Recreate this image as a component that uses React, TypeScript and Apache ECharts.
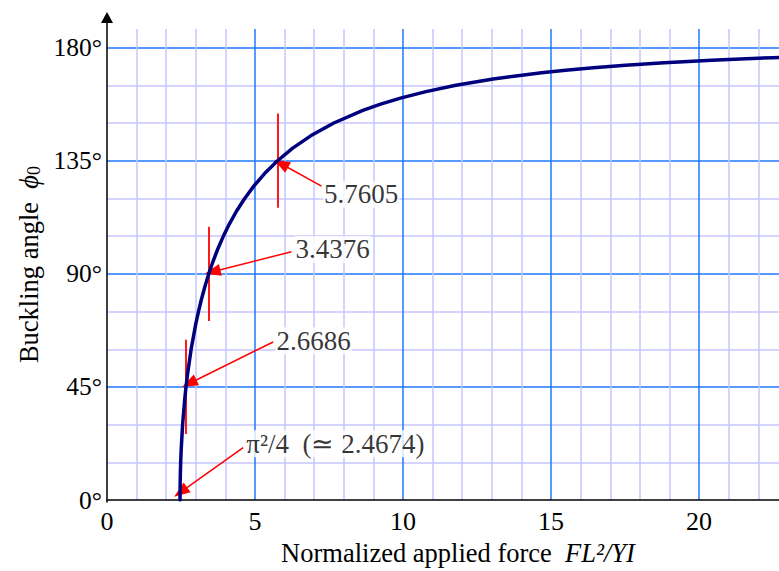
import React, { useEffect, useRef } from "react";
import * as echarts from "echarts";

// Buckling angle (degrees) and normalized applied force FL^2/YI along the curve
const phiDeg = [0, 2, 5, 10, 15, 20, 30, 40, 45, 50, 60, 70, 75, 80, 85, 90, 95, 100, 105, 110, 115, 120, 125, 130, 135, 140, 145, 150, 155, 157.5, 160, 162.5, 165, 167.5, 170, 171, 172, 173, 174, 175, 175.5, 176, 176.5, 177];
const force = [2.4674, 2.4679, 2.4698, 2.4768, 2.4887, 2.5054, 2.5541, 2.6245, 2.6686, 2.7192, 2.8418, 2.9972, 3.0894, 3.1926, 3.3081, 3.4376, 3.5829, 3.7465, 3.931, 4.1401, 4.3781, 4.6506, 4.9648, 5.3305, 5.7605, 6.2728, 6.8935, 7.6622, 8.6421, 9.2429, 9.9441, 10.7758, 11.785, 13.0443, 14.6822, 15.492, 16.4251, 17.517, 18.8241, 20.433, 21.3931, 22.4936, 23.775, 25.2994];

// Marked points
const markForce = [2.6686, 3.4376, 5.7605];
const markPhi = [45, 90, 135];
const markHalfSpan = 18.75;

// Annotation labels: text, anchor (force, angle), arrow start (force, angle), arrow tip (force, angle)
const annTexts = ["5.7605", "3.4376", "2.6686", "π²/4  (≃ 2.4674)"];
const annLabelAt = [[7.3, 121.7], [6.33, 99.7], [5.69, 63.4], [4.67, 22.4]];
const annArrowFrom = [[7.246, 124.9], [6.233, 98.8], [5.613, 62.9], [4.6, 20.9]];
const annArrowTo = [[5.88, 133.8], [3.567, 90.8], [2.778, 46.4], [2.487, 3.2]];

const xTicks = [0, 5, 10, 15, 20];
const yTickStep = 45;

const FONT = "Liberation Serif";

export default function App() {
  const ref = useRef<HTMLDivElement>(null);
  useEffect(() => {
    if (!ref.current) return;
    const chart = echarts.init(ref.current, undefined, { renderer: "svg" });
    const curve = phiDeg.map((p, i) => [force[i], p]);
    const tickLines = markForce.map((f, i) => [
      { coord: [f, markPhi[i] - markHalfSpan] },
      { coord: [f, markPhi[i] + markHalfSpan] },
    ]);
    const arrows = annArrowFrom.map((s, i) => [
      { coord: s, symbol: "none" },
      { coord: annArrowTo[i], symbol: "triangle" },
    ]);
    const labelData = annTexts.map((t, i) => ({ value: annLabelAt[i], name: t }));
    const major = "#1f78ff";
    const minor = "#c6c6ff";
    chart.setOption({
      animation: false,
      backgroundColor: "#ffffff",
      grid: [
        { left: 107, right: 0, top: 29, bottom: 69, containLabel: false },
        { left: 107, right: 0, top: 23, bottom: 69, containLabel: false },
      ],
      xAxis: [
        {
          type: "value",
          gridIndex: 0,
          min: 0,
          max: 22.7,
          interval: xTicks[1] - xTicks[0],
          axisLine: { show: true, lineStyle: { color: "#000", width: 1.5 } },
          axisTick: { show: false },
          axisLabel: {
            margin: 8,
            fontFamily: FONT,
            fontSize: 26,
            color: "#000",
            showMaxLabel: false,
            formatter: (v: number) => (xTicks.includes(v) ? String(v) : ""),
          },
          splitLine: { show: true, showMinLine: false, showMaxLine: false, lineStyle: { color: major, width: 1.5 } },
          minorTick: { show: false, splitNumber: 5 },
          minorSplitLine: { show: true, lineStyle: { color: minor, width: 1.5 } },
          name: "Normalized applied force  {it|FL²/YI}",
          nameLocation: "middle",
          nameGap: 36,
          nameTextStyle: {
            fontFamily: FONT,
            fontSize: 26.5,
            color: "#000",
            padding: [0, 0, 0, 30],
            rich: { it: { fontFamily: FONT, fontSize: 26.5, fontStyle: "italic", color: "#000" } },
          },
        },
        { type: "value", gridIndex: 1, show: false, min: 0, max: 1 },
      ],
      yAxis: [
        {
          type: "value",
          gridIndex: 0,
          min: 0,
          max: 187.4,
          interval: yTickStep,
          axisLine: { show: false },
          axisTick: { show: false },
          axisLabel: {
            margin: 5,
            fontFamily: FONT,
            fontSize: 25.5,
            color: "#000",
            showMaxLabel: false,
            formatter: (v: number) => (v % yTickStep === 0 ? v + "°" : ""),
          },
          splitLine: { show: true, showMinLine: false, showMaxLine: false, lineStyle: { color: major, width: 1.5 } },
          minorTick: { show: false, splitNumber: 3 },
          minorSplitLine: { show: true, lineStyle: { color: minor, width: 1.5 } },
          name: "Buckling angle  {it|ϕ}{sub|0}",
          nameLocation: "middle",
          nameGap: 63,
          nameRotate: 90,
          nameTextStyle: {
            fontFamily: FONT,
            fontSize: 26.5,
            color: "#000",
            rich: {
              it: { fontFamily: FONT, fontSize: 26.5, fontStyle: "italic", color: "#000" },
              sub: { fontFamily: FONT, fontSize: 18, color: "#000", verticalAlign: "bottom", padding: [10, 0, 0, 0] },
            },
          },
        },
        {
          type: "value",
          gridIndex: 1,
          min: 0,
          max: 1,
          axisLine: {
            show: true,
            symbol: ["none", "triangle"],
            symbolSize: [12, 11],
            symbolOffset: [0, 5.5],
            lineStyle: { color: "#000", width: 1.5 },
          },
          axisTick: { show: false },
          axisLabel: { show: false },
          splitLine: { show: false },
        },
      ],
      series: [
        {
          type: "line",
          xAxisIndex: 0,
          yAxisIndex: 0,
          data: curve,
          showSymbol: false,
          smooth: false,
          clip: true,
          z: 5,
          lineStyle: { color: "#00007f", width: 3.5, join: "round", cap: "round" },
          markLine: {
            silent: true,
            symbol: ["none", "none"],
            label: { show: false },
            lineStyle: { color: "#ff0000", width: 1.8, type: "solid" },
            data: tickLines,
          },
        },
        {
          type: "line",
          xAxisIndex: 0,
          yAxisIndex: 0,
          data: [],
          z: 6,
          markLine: {
            silent: true,
            symbol: ["none", "triangle"],
            symbolSize: [12, 16],
            label: { show: false },
            lineStyle: { color: "#ff0000", width: 1.5, type: "solid" },
            itemStyle: { color: "#ff0000" },
            data: arrows,
          },
        },
        {
          type: "scatter",
          xAxisIndex: 0,
          yAxisIndex: 0,
          data: labelData,
          symbolSize: 0,
          z: 7,
          label: {
            show: true,
            position: "right",
            distance: 0,
            formatter: (p: any) => p.name,
            fontFamily: FONT,
            fontSize: 27,
            color: "#000",
            backgroundColor: "#ffffff",
            padding: [0, 1, 0, 1],
          },
        },
      ],
    });
    return () => chart.dispose();
  }, []);
  return (
    <div
      ref={ref}
      style={{ position: "fixed", left: 0, top: 0, width: 779, height: 571 }}
    />
  );
}
